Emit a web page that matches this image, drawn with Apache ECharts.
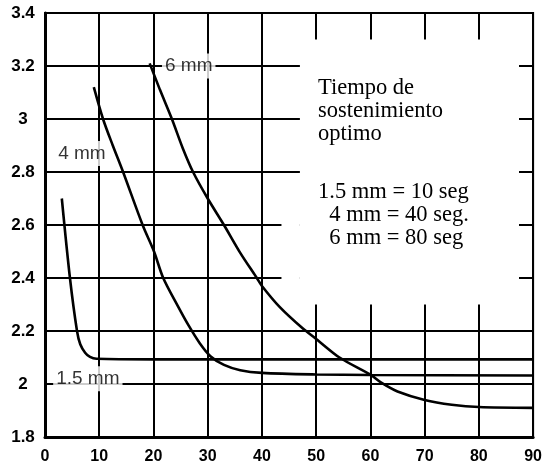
<!DOCTYPE html>
<html>
<head>
<meta charset="utf-8">
<script src="https://cdn.jsdelivr.net/npm/echarts@6/dist/echarts.min.js"></script>
<style>
  html, body { margin: 0; padding: 0; background: #fff; }
  #viz { width: 545px; height: 468px; }
</style>
</head>
<body>
<div id="viz"></div>
<script>
// Curves (x = time, y = value)
const curve15 = [[3.1, 2.70], [4.6, 2.40], [5.9, 2.20], [6.5, 2.15], [7.4, 2.118], [8.3, 2.102], [9.5, 2.095], [20, 2.093], [40, 2.093], [60, 2.093], [90, 2.093]];
const curve4 = [[9.0, 3.12], [10.7, 3.0], [12.5, 2.9], [14.4, 2.8], [18.0, 2.6], [20.1, 2.5], [21.8, 2.4], [24.6, 2.29], [26.5, 2.22], [28.5, 2.155], [30.5, 2.105], [33, 2.072], [36, 2.052], [40, 2.042], [50, 2.036], [60, 2.034], [90, 2.032]];
const curve6 = [[19.3, 3.21], [21.2, 3.11], [23.4, 3.0], [25.4, 2.89], [27.3, 2.8], [30, 2.70], [33, 2.6], [36, 2.495], [38.9, 2.405], [40, 2.37], [43.3, 2.29], [47.5, 2.21], [50, 2.17], [54.3, 2.1], [60, 2.035], [62, 2.005], [65, 1.972], [70, 1.94], [75, 1.922], [80, 1.913], [90, 1.91]];

// labels sitting on the curves
const curveLabels = [[26.5, 3.2, '6 mm'], [6.8, 2.87, '4 mm'], [7.9, 2.02, '1.5 mm']];

// blank box behind the note (the gridlines stop there)
const maskBoxes = [
  [[47, 2.3], [87.4, 3.3]],
  [[43.6, 2.35], [47, 2.7]]
];

const noteTop = ['Tiempo de', 'sostenimiento', 'optimo'];
const noteBottom = ['1.5 mm = 10 seg', '  4 mm = 40 seg.', '  6 mm = 80 seg'];

var myChart = echarts.init(document.getElementById('viz'));

const curveStyle = {
    type: 'line',
    symbol: 'none',
    smooth: 0.3,
    lineStyle: { color: '#000', width: 2.6 },
    z: 3
};

var option = {
    animation: false,
    grid: {
        left: 45, right: 10, top: 13, bottom: 31,
        show: true,
        borderColor: '#000',
        borderWidth: 2
    },
    xAxis: {
        type: 'value',
        min: 0, max: 90, interval: 10,
        axisLine: { lineStyle: { color: '#000', width: 3 } },
        axisTick: { show: false },
        axisLabel: { color: '#000', fontSize: 16, fontWeight: 'bold', fontFamily: 'Liberation Sans', margin: 12 },
        splitLine: { show: true, lineStyle: { color: '#000', width: 2 } }
    },
    yAxis: {
        type: 'value',
        min: 1.8, max: 3.4, interval: 0.2,
        axisLine: { show: true, lineStyle: { color: '#000', width: 3 } },
        axisTick: { show: false },
        axisLabel: { color: '#000', fontSize: 17, fontWeight: 'bold', fontFamily: 'Liberation Sans', margin: 22, align: 'center' },
        splitLine: { show: true, lineStyle: { color: '#000', width: 2 } }
    },
    graphic: [
        {
            type: 'text', left: 318, top: 77, z: 10,
            style: { text: noteTop.join('\n'), font: '22.5px "Liberation Serif"', lineHeight: 23, fill: '#000' }
        },
        {
            type: 'text', left: 318, top: 181, z: 10,
            style: { text: noteBottom.join('\n'), font: '22.5px "Liberation Serif"', lineHeight: 23, fill: '#000' }
        }
    ],
    series: [
        {
            type: 'line',
            data: [],
            z: 1,
            silent: true,
            markArea: {
                silent: true,
                itemStyle: { color: '#fff', opacity: 1 },
                data: maskBoxes.map(b => [{ coord: b[0] }, { coord: b[1] }])
            }
        },
        Object.assign({ name: '1.5 mm', data: curve15 }, curveStyle),
        Object.assign({ name: '4 mm', data: curve4 }, curveStyle),
        Object.assign({ name: '6 mm', data: curve6 }, curveStyle),
        {
            type: 'scatter',
            symbolSize: 0,
            z: 5,
            data: curveLabels.map(d => ({ value: [d[0], d[1]], name: d[2] })),
            label: {
                show: true,
                position: 'inside',
                formatter: p => p.name,
                color: '#000',
                fontSize: 19,
                fontFamily: 'Liberation Sans',
                backgroundColor: '#fff',
                padding: [3, 3]
            }
        }
    ]
};

myChart.setOption(option);
</script>
</body>
</html>
